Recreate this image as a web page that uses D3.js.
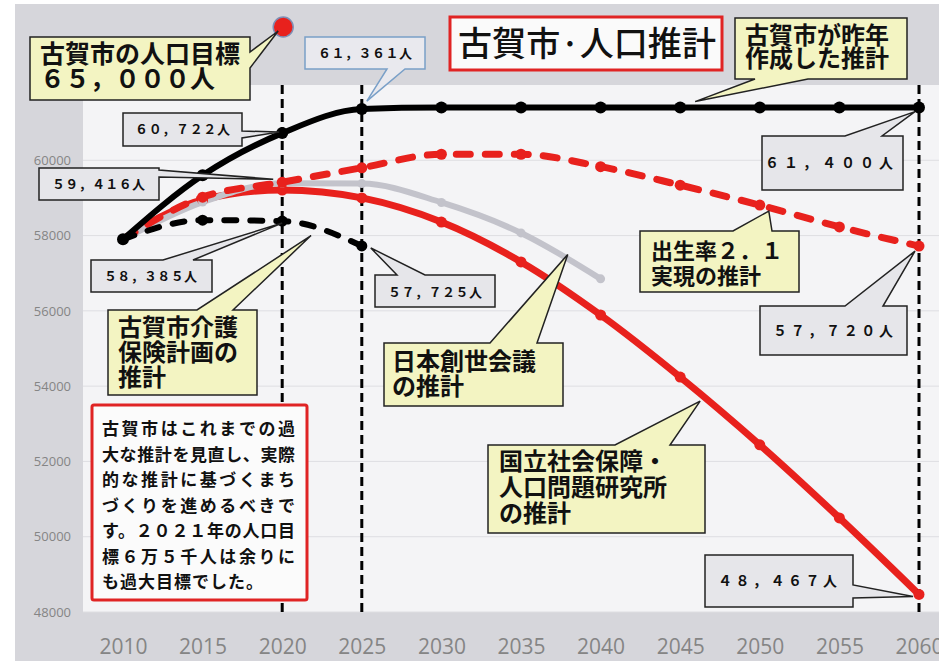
<!DOCTYPE html>
<html>
<head>
<meta charset="utf-8">
<script src="https://cdn.jsdelivr.net/npm/d3@7"></script>
<style>
  body { margin: 0; background: #fff; }
  svg { display: block; }
</style>
</head>
<body>
<div id="chart"></div>
<script>
// data
const years = [2010, 2015, 2020, 2025, 2030, 2035, 2040, 2045, 2050, 2055, 2060];
const kogaPlan = [57900, 59600, 60722, 61361, 61400, 61400, 61400, 61400, 61400, 61400, 61400];
const kaigoPlan = [57900, 58410, 58385, 57725];
const birthRate21 = [57900, 59020, 59416, 59800, 60160, 60160, 59830, 59340, 58810, 58230, 57720];
const nihonSosei = [57900, 58890, 59390, 59380, 58880, 58070, 56850];
const ipss = [57900, 58950, 59210, 59000, 58360, 57300, 55890, 54240, 52440, 50500, 48467];
const yTicks = [48000, 50000, 52000, 54000, 56000, 58000, 60000];
const markYears = [2020, 2025, 2060];

const W = 939, H = 661;
const plot = { left: 83, top: 85, right: 939, bottom: 612 };
const font = "'Noto Sans CJK JP', 'Noto Sans', sans-serif";

const svg = d3.select("#chart").append("svg")
    .attr("width", W)
    .attr("height", H);

// backgrounds
svg.append("rect").attr("x", 15).attr("y", 4).attr("width", W - 15).attr("height", H - 4)
    .attr("fill", "#d6d6db");
svg.append("rect").attr("x", plot.left).attr("y", plot.top)
    .attr("width", plot.right - plot.left).attr("height", plot.bottom - plot.top)
    .attr("fill", "#f4f4f6");

const x = d3.scaleLinear().domain([2010, 2060]).range([123, 919]);
const y = d3.scaleLinear().domain([48000, 62000]).range([plot.bottom, plot.top]);

// grid
svg.append("g").selectAll("line")
    .data(yTicks)
    .enter()
    .append("line")
    .attr("x1", plot.left).attr("x2", plot.right)
    .attr("y1", d => y(d)).attr("y2", d => y(d))
    .attr("stroke", "#dedee2")
    .attr("stroke-width", 1);

// y axis
const yAxis = svg.append("g")
    .attr("transform", "translate(71,0)")
    .call(d3.axisLeft(y).tickValues(yTicks).tickSize(0).tickPadding(0).tickFormat(d3.format("d")));
yAxis.select(".domain").remove();
yAxis.selectAll("text")
    .attr("fill", "#858585")
    .style("font-family", "'Open Sans', sans-serif")
    .style("font-size", "13px");

// x axis
const xAxis = svg.append("g")
    .attr("transform", "translate(0," + plot.bottom + ")")
    .call(d3.axisBottom(x).tickValues(years).tickSize(0).tickPadding(27).tickFormat(d3.format("d")));
xAxis.select(".domain").remove();
xAxis.selectAll("text")
    .attr("fill", "#858585")
    .style("font-family", "'Open Sans', sans-serif")
    .style("font-size", "21px");

function series(values, color, width, dash) {
    const pts = values.map((v, i) => [years[i], v]);
    svg.append("path")
        .datum(pts)
        .attr("fill", "none")
        .attr("stroke", color)
        .attr("stroke-width", width)
        .attr("stroke-linecap", "round")
        .attr("stroke-dasharray", dash)
        .attr("d", d3.line().x(d => x(d[0])).y(d => y(d[1])).curve(d3.curveMonotoneX));
    return pts;
}
function dots(pts, color, r, skipFirst) {
    svg.append("g").selectAll("circle")
        .data(skipFirst ? pts.slice(1) : pts)
        .enter()
        .append("circle")
        .attr("cx", d => x(d[0]))
        .attr("cy", d => y(d[1]))
        .attr("r", r)
        .attr("fill", color);
}

const pIpss = series(ipss, "#e8211d", 7, null);
const pNihon = series(nihonSosei, "#c3c3cb", 6, null);
const pBirth = series(birthRate21, "#e8211d", 7, "14,15");
const pKaigo = series(kaigoPlan, "#000", 6, "12,14");
const pKoga = series(kogaPlan, "#000", 6, null);

// vertical dashed markers
svg.append("g").selectAll("line")
    .data(markYears)
    .enter()
    .append("line")
    .attr("x1", d => x(d)).attr("x2", d => x(d))
    .attr("y1", plot.top).attr("y2", plot.bottom)
    .attr("stroke", "#000")
    .attr("stroke-width", 3)
    .attr("stroke-dasharray", "9,5");

dots(pIpss, "#e8211d", 5.5, true);
dots(pNihon, "#c3c3cb", 4.5, true);
dots(pBirth, "#e8211d", 5.5, true);
dots(pKaigo, "#000", 5.5, true);
dots(pKoga, "#000", 6, false);

// target dot (65,000 is above the axis range)
svg.append("circle")
    .attr("cx", x(2020) + 1).attr("cy", 27).attr("r", 10)
    .attr("fill", "#e8211d")
    .attr("stroke", "#7f8fb5")
    .attr("stroke-width", 1.5);

// callout shape: box with a wedge tail on one side
function calloutPath(x0, y0, x1, y1, side, b0, b1, tx, ty) {
    let p = "M" + x0 + "," + y0;
    if (side === "top") p += "L" + b0 + "," + y0 + "L" + tx + "," + ty + "L" + b1 + "," + y0;
    p += "L" + x1 + "," + y0;
    if (side === "right") p += "L" + x1 + "," + b0 + "L" + tx + "," + ty + "L" + x1 + "," + b1;
    p += "L" + x1 + "," + y1;
    if (side === "bottom") p += "L" + b1 + "," + y1 + "L" + tx + "," + ty + "L" + b0 + "," + y1;
    p += "L" + x0 + "," + y1;
    if (side === "left") p += "L" + x0 + "," + b1 + "L" + tx + "," + ty + "L" + x0 + "," + b0;
    return p + "Z";
}

function callout(c) {
    svg.append("path")
        .attr("d", calloutPath(c.box[0], c.box[1], c.box[2], c.box[3], c.side, c.base[0], c.base[1], c.tip[0], c.tip[1]))
        .attr("fill", c.fill)
        .attr("stroke", c.stroke || "#222")
        .attr("stroke-width", 1.5)
        .attr("stroke-linejoin", "miter");
    const t = svg.append("text")
        .attr("font-family", font)
        .attr("font-weight", 700)
        .attr("font-size", c.size)
        .attr("fill", "#111");
    c.lines.forEach((ln, i) => {
        const ts = t.append("tspan")
            .attr("x", c.tx)
            .attr("y", c.ty + i * c.lh)
            .text(ln);
        if (c.len) ts.attr("textLength", c.len).attr("lengthAdjust", "spacing");
    });
}

const yellow = "#f3f4c2";
const grey = "#e6e6ea";

// yellow labels
callout({ box: [30, 37, 250, 100], side: "right", base: [52, 68], tip: [x(2020) - 4, 31],
    fill: yellow, lines: ["古賀市の人口目標", "６５，０００人"], size: 25, tx: 40, ty: 63, lh: 25 });
callout({ box: [735, 18, 907, 79], side: "bottom", base: [755, 808], tip: [x(2046) - 1, y(61400) - 6],
    fill: yellow, lines: ["古賀市が昨年", "作成した推計"], size: 24, tx: 745, ty: 44, lh: 23 });
callout({ box: [108, 310, 257, 395], side: "top", base: [197, 233], tip: [x(2022) - 3, y(58000)],
    fill: yellow, lines: ["古賀市介護", "保険計画の", "推計"], size: 24, tx: 118, ty: 336, lh: 25 });
callout({ box: [384, 343, 563, 406], side: "top", base: [490, 537], tip: [x(2038) - 1, y(57500)],
    fill: yellow, lines: ["日本創世会議", "の推計"], size: 24, tx: 392, ty: 370, lh: 25 });
callout({ box: [640, 231, 799, 292], side: "top", base: [733, 772], tip: [x(2050) + 9, y(58810) + 6],
    fill: yellow, lines: ["出生率２．１", "実現の推計"], size: 22, tx: 651, ty: 259, lh: 25 });
callout({ box: [488, 445, 705, 533], side: "top", base: [615, 670], tip: [x(2046) + 4, y(53600)],
    fill: yellow, lines: ["国立社会保障・", "人口問題研究所", "の推計"], size: 24, tx: 499, ty: 470, lh: 26 });

// number labels
callout({ box: [305, 37, 425, 69], side: "bottom", base: [387, 405], tip: [x(2025) + 5, y(61361) - 8],
    fill: "#e9e9ee", stroke: "#7aa0c8", lines: ["６１，３６１人"], size: 13, tx: 318, ty: 58, lh: 0, len: 94 });
callout({ box: [123, 113, 242, 146], side: "right", base: [131, 138], tip: [x(2020) - 3, y(60722) - 1],
    fill: grey, lines: ["６０，７２２人"], size: 13, tx: 135, ty: 134, lh: 0, len: 95 });
callout({ box: [39, 168, 159, 200], side: "right", base: [170, 177], tip: [x(2020) - 9, y(59416) - 3],
    fill: grey, lines: ["５９，４１６人"], size: 13, tx: 52, ty: 189, lh: 0, len: 93 });
callout({ box: [91, 260, 212, 292], side: "top", base: [163, 193], tip: [x(2020), y(58385) + 2],
    fill: grey, lines: ["５８，３８５人"], size: 13, tx: 104, ty: 281, lh: 0, len: 93 });
callout({ box: [375, 275, 495, 307], side: "top", base: [397, 425], tip: [x(2025) + 9, y(57725) + 2],
    fill: grey, lines: ["５７，７２５人"], size: 13, tx: 388, ty: 297, lh: 0, len: 94 });
callout({ box: [762, 136, 903, 190], side: "top", base: [845, 882], tip: [x(2060) - 4, y(61400) + 4],
    fill: grey, lines: ["６１，４００人"], size: 14, tx: 765, ty: 168, lh: 0, len: 128 });
callout({ box: [760, 306, 907, 355], side: "top", base: [845, 883], tip: [x(2060) - 4, y(57720) + 5],
    fill: grey, lines: ["５７，７２０人"], size: 14, tx: 773, ty: 336, lh: 0, len: 120 });
callout({ box: [705, 555, 853, 607], side: "right", base: [585, 598], tip: [x(2060) - 6, y(48467) + 2],
    fill: grey, lines: ["４８，４６７人"], size: 14, tx: 718, ty: 586, lh: 0, len: 119 });

// title
svg.append("rect")
    .attr("x", 450).attr("y", 17).attr("width", 272).attr("height", 53)
    .attr("fill", "#fafafa")
    .attr("stroke", "#e02424")
    .attr("stroke-width", 3);
svg.append("text")
    .attr("x", 458).attr("y", 56)
    .attr("font-family", font)
    .attr("font-weight", 500)
    .attr("font-size", 34)
    .attr("fill", "#111")
    .attr("textLength", 258)
    .attr("lengthAdjust", "spacingAndGlyphs")
    .text("古賀市·人口推計");

// comment box
const noteLines = [
    "古賀市はこれまでの過",
    "大な推計を見直し、実際",
    "的な推計に基づくまち",
    "づくりを進めるべきで",
    "す。２０２１年の人口目",
    "標６万５千人は余りに",
    "も過大目標でした。"
];
svg.append("rect")
    .attr("x", 92).attr("y", 405).attr("width", 215).attr("height", 195)
    .attr("fill", "#fbfbfb")
    .attr("stroke", "#e02424")
    .attr("stroke-width", 3)
    .attr("rx", 2);
const note = svg.append("text")
    .attr("font-family", font)
    .attr("font-weight", 700)
    .attr("font-size", 17)
    .attr("fill", "#111");
noteLines.forEach((ln, i) => {
    const ts = note.append("tspan")
        .attr("x", 102)
        .attr("y", 435 + i * 25.5)
        .text(ln);
    if (i < noteLines.length - 1) ts.attr("textLength", 193).attr("lengthAdjust", "spacing");
    else ts.attr("letter-spacing", 1);
});
</script>
</body>
</html>
